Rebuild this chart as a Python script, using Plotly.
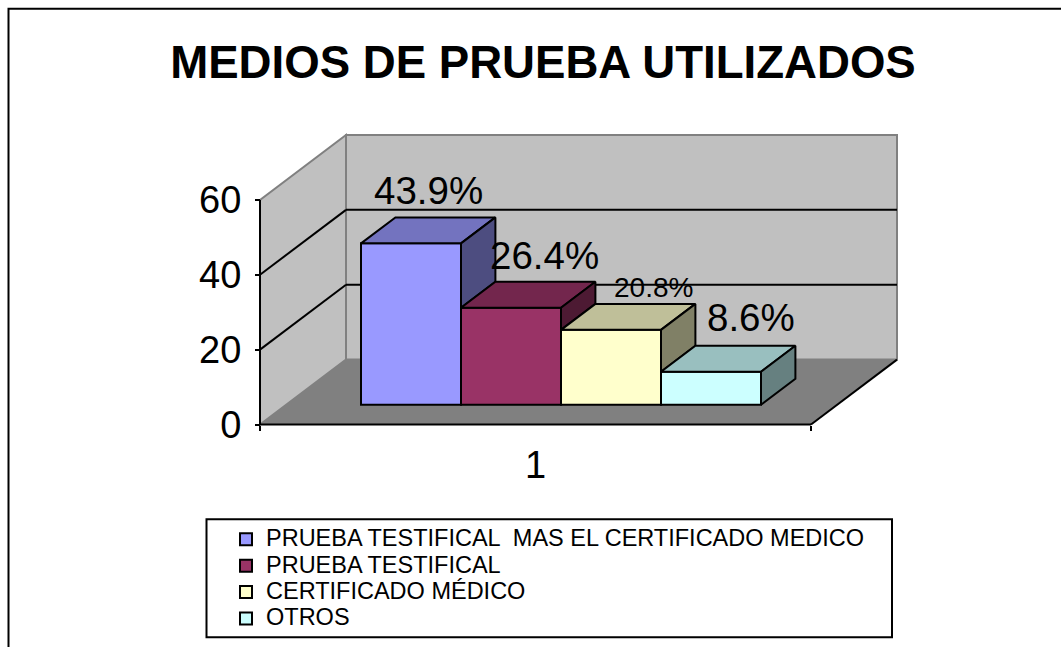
import plotly.graph_objects as go

# --- data ---
TITLE = "MEDIOS DE PRUEBA UTILIZADOS"
series_names = ["PRUEBA TESTIFICAL  MAS EL CERTIFICADO MEDICO", "PRUEBA TESTIFICAL",
                "CERTIFICADO MÉDICO", "OTROS"]
bar_values = [43.1, 25.9, 20.0, 8.8]
bar_labels = ["43.9%", "26.4%", "20.8%", "8.6%"]
category_label = "1"
y_ticks = [0, 20, 40, 60]

# --- styles ---
front_colors = ["#9999FF", "#993366", "#FFFFCC", "#CCFFFF"]
top_colors = ["#7373BF", "#73264D", "#BFBF99", "#99BFBF"]
side_colors = ["#4D4D80", "#4D1A33", "#808066", "#668080"]
label_sizes = [38.5, 38.5, 28, 38.5]
label_shift = [(17, 53), (33, 52), (42, 42), (40, 54)]
FONT = "Liberation Sans"

W, H = 1061, 647
PX_X = 551.0            # pixels for one category
PX_Y = 3.75             # pixels per y unit
X0_PX, Y0_PX = 260, 425 # pixel position of the front axes origin
XMIN, XMAX = 0.5 - 6 / PX_X, 1.5 + 90 / PX_X
YMIN, YMAX = -2.0, 80.0
L = X0_PX - 6
R = W - (X0_PX + 551 + 90)
T = Y0_PX - YMAX * PX_Y
B = H - (Y0_PX - YMIN * PX_Y)
PW, PH = W - L - R, H - T - B

DX = 86 / PX_X          # full floor depth, x units
DY = 65 / PX_Y          # full floor depth, y units
D_FRONT, D_BACK = 0.305, 0.705
BAR_W = 100 / PX_X
GAP = 0.1357


def px(xp):
    return (xp - L) / PW


def py(yp):
    return 1 - (yp - T) / PH


def depth(x, y, d):
    return x + DX * d, y + DY * d


fig = go.Figure()

# walls, floor, grid lines: below the traces
wall = dict(type="path", layer="below", xref="x", yref="y")
xl, xr = 0.5, 1.5
top = y_ticks[-1]
bx, by = depth(xl, 0, 1)
brx, _ = depth(xr, 0, 1)


def poly(points):
    return "M" + "L".join(f"{a},{b}" for a, b in points) + "Z"


fig.add_shape(path=poly([(xl, 0), (xr, 0), (brx, by), (bx, by)]), fillcolor="#808080",
              line=dict(color="#808080", width=1), **wall)
fig.add_shape(path=poly([(bx, by), (brx, by), (brx, by + top), (bx, by + top)]), fillcolor="#C0C0C0",
              line=dict(color="#808080", width=2), **wall)
fig.add_shape(path=poly([(xl, 0), (bx, by), (bx, by + top), (xl, top)]), fillcolor="#C0C0C0",
              line=dict(color="#808080", width=2), **wall)
for v in y_ticks[1:-1]:
    fig.add_shape(type="line", layer="below", xref="x", yref="y", x0=xl, y0=v, x1=bx, y1=by + v,
                  line=dict(color="black", width=2))
    fig.add_shape(type="line", layer="below", xref="x", yref="y", x0=bx, y0=by + v, x1=brx, y1=by + v,
                  line=dict(color="black", width=2))
fig.add_shape(type="line", layer="below", xref="x", yref="y", x0=xr, y0=0, x1=brx, y1=by,
              line=dict(color="black", width=2))

# outer frame (open on the right and at the bottom) and legend box
fig.add_shape(type="path", xref="paper", yref="paper",
              path=f"M{px(8.5)},{py(H + 10)}L{px(8.5)},{py(8.5)}L{px(W + 10)},{py(8.5)}",
              line=dict(color="black", width=2))
fig.add_shape(type="rect", xref="paper", yref="paper", x0=px(206.5), x1=px(892), y0=py(638), y1=py(520),
              line=dict(color="black", width=2))

# front faces as bars, with the legend
for i, (name, v) in enumerate(zip(series_names, bar_values)):
    x_left = xl + GAP + i * BAR_W
    fx, fy = depth(x_left, 0, D_FRONT)
    fig.add_trace(go.Bar(x=[fx + BAR_W / 2], y=[v], base=[fy], width=[BAR_W],
                         name=f'<span style="font-size:23.5px">{name}</span>',
                         marker=dict(color=front_colors[i], line=dict(color="black", width=2)),
                         hoverinfo="skip"))

# top and side faces
d_span = D_BACK - D_FRONT
for i, v in enumerate(bar_values):
    x_left = xl + GAP + i * BAR_W
    fx, fy = depth(x_left, 0, D_FRONT)
    x_right = fx + BAR_W
    ddx, ddy = DX * d_span, DY * d_span
    next_v = bar_values[i + 1] if i + 1 < len(bar_values) else 0
    tx = [fx, x_right, x_right + ddx, fx + ddx, fx]
    ty = [fy + v, fy + v, fy + v + ddy, fy + v + ddy, fy + v]
    sx = [x_right, x_right + ddx, x_right + ddx, x_right, x_right]
    sy = [fy + v, fy + v + ddy, fy + next_v + ddy, fy + next_v, fy + v]
    for xs, ys, c in ((tx, ty, top_colors[i]), (sx, sy, side_colors[i])):
        fig.add_trace(go.Scatter(x=xs, y=ys, mode="lines", fill="toself", fillcolor=c,
                                 line=dict(color="black", width=2), showlegend=False, hoverinfo="skip"))
    fig.add_annotation(x=fx + BAR_W / 2, y=fy + v, xref="x", yref="y", text=bar_labels[i], showarrow=False,
                       xshift=label_shift[i][0], yshift=label_shift[i][1],
                       font=dict(family=FONT, size=label_sizes[i], color="black"))

# axis lines
fig.add_trace(go.Scatter(x=[xl, xl], y=[0, top], mode="lines", line=dict(color="black", width=2),
                         showlegend=False, hoverinfo="skip"))
fig.add_trace(go.Scatter(x=[xl, xr], y=[0, 0], mode="lines", line=dict(color="black", width=2),
                         showlegend=False, hoverinfo="skip"))

fig.update_layout(
    width=W, height=H, autosize=False, barmode="overlay",
    margin=dict(l=L, r=R, t=T, b=B, pad=0, autoexpand=False),
    paper_bgcolor="white", plot_bgcolor="rgba(0,0,0,0)",
    font=dict(family=FONT, color="black"),
    title=dict(text=f"<b>{TITLE}</b>", x=543 / W, y=1 - 62 / H, xanchor="center", yanchor="middle",
               xref="container", yref="container", font=dict(family=FONT, size=45.6, color="black")),
    xaxis=dict(range=[XMIN, XMAX], tickmode="array", tickvals=[1], ticktext=[category_label], ticks="",
               showgrid=False, zeroline=False, showline=False, anchor="free",
               position=(-YMIN) / (YMAX - YMIN), ticklabelstandoff=14,
               tickfont=dict(family=FONT, size=38, color="black"),
               minor=dict(tickmode="array", tickvals=[0.5, 1.5], ticks="outside", ticklen=5, tickwidth=2,
                          tickcolor="black", showgrid=False)),
    yaxis=dict(range=[YMIN, YMAX], tickmode="array", tickvals=y_ticks, ticks="outside", ticklen=5, tickwidth=2,
               tickcolor="black", showgrid=False, zeroline=False, showline=False, anchor="free",
               position=(0.5 - XMIN) / (XMAX - XMIN), ticklabelstandoff=6,
               tickfont=dict(family=FONT, size=38, color="black")),
    legend=dict(x=px(226), y=py(521.7), xanchor="left", yanchor="top", bgcolor="rgba(0,0,0,0)",
                borderwidth=0, traceorder="normal", font=dict(family=FONT, size=18, color="black")),
)

fig.write_html("out.html", config=dict(displayModeBar=False),
               post_script="document.body.style.margin='0';document.documentElement.style.overflow='hidden';")
